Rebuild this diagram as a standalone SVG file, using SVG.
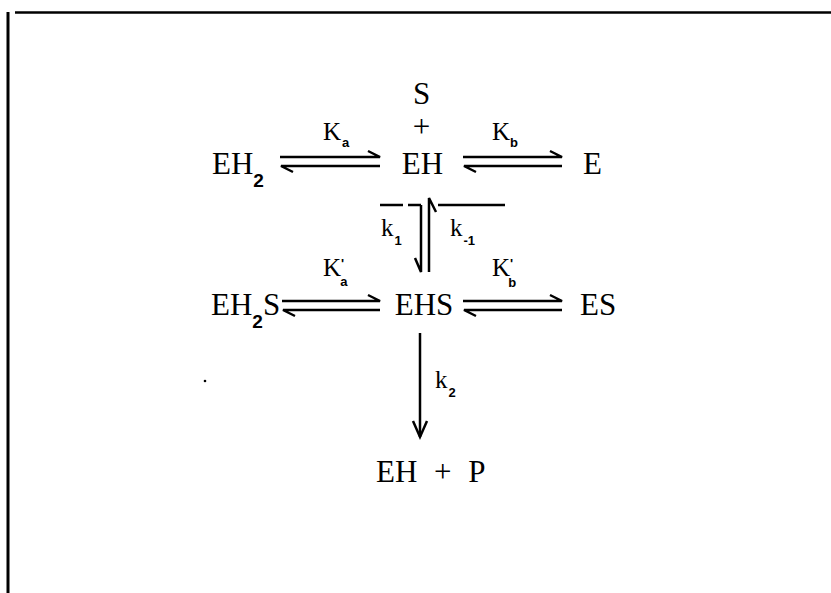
<svg xmlns="http://www.w3.org/2000/svg" width="831" height="593" viewBox="0 0 831 593">
<style>
.sp{font-family:'Liberation Serif','Times New Roman',serif;font-size:31px;fill:#000}
.k{font-family:'Liberation Serif','Times New Roman',serif;font-size:25px;fill:#000}
.sub{font-family:'Liberation Sans',Arial,sans-serif;font-size:13px;font-weight:bold;fill:#000}
.sub2{font-family:'Liberation Sans',Arial,sans-serif;font-size:19px;font-weight:bold;fill:#000}
.ln{stroke:#000;stroke-width:2.5;fill:none;stroke-linecap:butt}
.frame{stroke:#000;fill:none}
</style>
<rect width="831" height="593" fill="#fff"/>
<g id="frame">
<line class="frame" x1="8" y1="12" x2="8" y2="593" stroke-width="3"/>
<line class="frame" x1="15" y1="12.5" x2="831" y2="12.5" stroke-width="2.5"/>
<circle cx="205" cy="381" r="1.3" fill="#000"/>
</g>
<g id="node-S"><text class="sp" x="421.5" y="104" text-anchor="middle">S</text><text class="sp" x="421.5" y="136.5" text-anchor="middle" font-size="27">+</text></g>
<g id="node-EH2"><text class="sp" x="212" y="174">EH<tspan class="sub2" dy="13">2</tspan></text></g>
<g id="node-EH"><text class="sp" x="422.5" y="174" text-anchor="middle">EH</text></g>
<g id="node-E"><text class="sp" x="583" y="174">E</text></g>
<g id="node-EH2S"><text class="sp" x="211" y="315">EH<tspan class="sub2" dy="13">2</tspan><tspan dy="-13">S</tspan></text></g>
<g id="node-EHS"><text class="sp" x="424" y="315" text-anchor="middle">EHS</text></g>
<g id="node-ES"><text class="sp" x="580" y="315">ES</text></g>
<g id="node-EHP"><text class="sp" x="376" y="482" word-spacing="9">EH + P</text></g>
<g id="labels">
<text class="k" x="323" y="140">K<tspan class="sub" dx="1" dy="7">a</tspan></text>
<text class="k" x="492" y="140">K<tspan class="sub" dx="0" dy="7">b</tspan></text>
<text class="k" x="323" y="276">K<tspan class="sub" dx="0" dy="-8">'</tspan><tspan class="sub" dx="-4" dy="18">a</tspan></text>
<text class="k" x="492" y="276">K<tspan class="sub" dx="0" dy="-8">'</tspan><tspan class="sub" dx="-5" dy="19">b</tspan></text>
<text class="k" x="381" y="236">k<tspan class="sub" dx="1" dy="9">1</tspan></text>
<text class="k" x="450" y="236">k<tspan class="sub" dx="1" dy="9">-1</tspan></text>
<text class="k" x="435" y="388">k<tspan class="sub" dx="1" dy="9">2</tspan></text>
</g>
<g id="connectors">
<path class="ln" d="M280,157 H380 L368,151"/>
<path class="ln" d="M380,166 H281 L293,172"/>
<path class="ln" d="M463,157 H562 L550,151"/>
<path class="ln" d="M562,166 H464 L476,172"/>
<path class="ln" d="M282,301 H380 L368,295"/>
<path class="ln" d="M380,310 H283 L295,316"/>
<path class="ln" d="M463,301 H562 L550,295"/>
<path class="ln" d="M562,310 H464 L476,316"/>
<path class="ln" d="M421,205 V272 L415,258"/>
<path class="ln" d="M429,272 V198 L436,212"/>
<path class="ln" stroke-width="2" d="M380,205 H403 M408,205 H421 M438,205 H505"/>
<path class="ln" d="M420,333 V437"/>
<path class="ln" stroke-width="3" d="M413,421 L420,437 L427,421"/>
</g>
</svg>
